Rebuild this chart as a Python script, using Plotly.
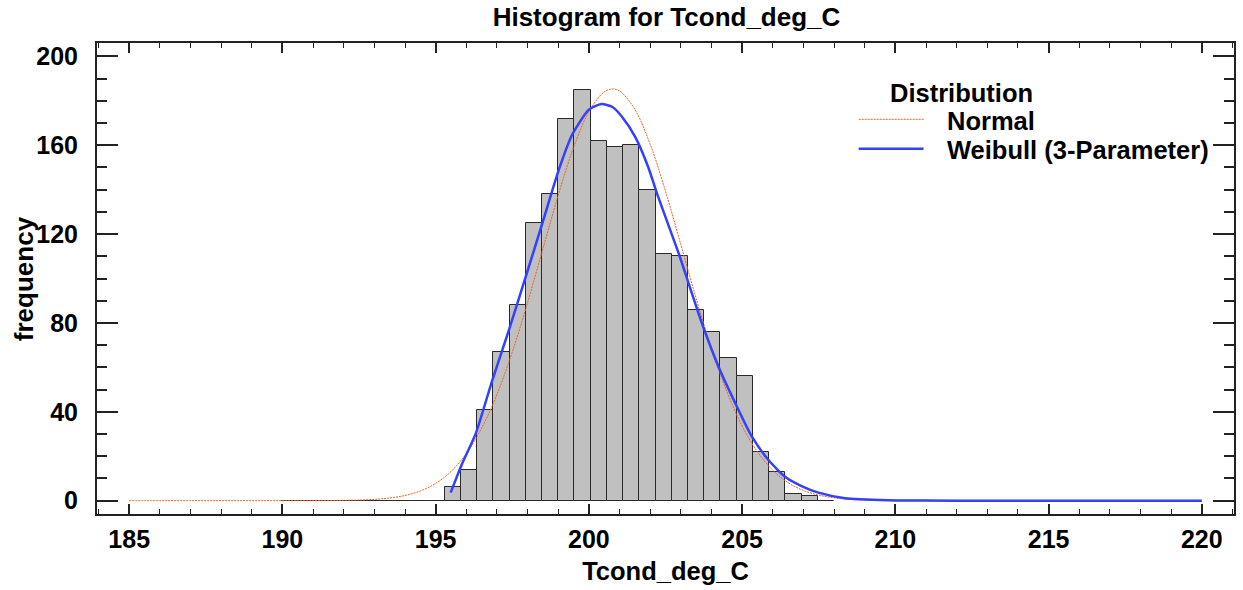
import numpy as np
import plotly.graph_objects as go

# Histogram classes (34 classes from 190 to 208)
class_lower = 190.0
class_upper = 208.0
counts = [0, 0, 0, 0, 0, 0, 0, 0, 0, 0,
          6, 14, 41, 67, 88, 125, 138, 172, 185, 162,
          159, 160, 140, 111, 110, 86, 76, 64, 56, 22,
          13, 3, 2, 0]

# Fitted Normal curve
normal_x = [185, 186, 187, 188, 189, 190, 191, 192, 192.5, 193, 193.5, 194, 194.5,
            195, 195.5, 196, 196.5, 197, 197.5, 198, 198.5, 199, 199.5, 200,
            200.5, 200.77, 201, 201.5, 202, 202.5, 203, 203.5, 204, 204.5, 205,
            205.5, 206, 206.5, 207, 207.5, 208, 208.5, 209, 209.5, 210]
normal_y = [0, 0, 0, 0, 0, 0.003, 0.02, 0.12, 0.27, 0.59, 1.2, 2.34, 4.37,
            7.75, 13.1, 21.2, 32.6, 47.8, 66.9, 89.2, 113.4, 137.5, 158.9, 175.1,
            184.0, 185.3, 184.4, 176.1, 160.4, 139.3, 115.3, 91.0, 68.5, 49.2, 33.6,
            22.0, 13.7, 8.1, 4.6, 2.5, 1.3, 0.6, 0.3, 0.13, 0.05]

# Fitted Weibull (3-Parameter) curve
weibull_x = [195.49, 195.87, 196.31, 196.85, 197.39, 197.94, 198.48, 199.02, 199.45,
             200.0, 200.41, 200.76, 201.08, 201.52, 201.95, 202.22, 202.93, 203.69,
             204.23, 204.78, 205.32, 205.86, 206.4, 206.94, 207.49, 208.36, 209.77,
             211.0, 213.0, 216.0, 220.0]
weibull_y = [3.6, 16.8, 30.3, 54.3, 76.8, 100.8, 124.8, 149.0, 164.6,
             176.0, 178.5, 177.3, 172.8, 163.5, 149.6, 138.3, 111.3, 79.8,
             60.3, 43.8, 28.8, 18.3, 10.8, 6.6, 3.6, 1.1, 0.2,
             0.05, 0.0, 0.0, 0.0]

x_ticks = [185, 190, 195, 200, 205, 210, 215, 220]
y_ticks = [0, 40, 80, 120, 160, 200]

legend_title = "Distribution"
legend_names = ["Normal", "Weibull (3-Parameter)"]

n_classes = len(counts)
width = (class_upper - class_lower) / n_classes
centers = class_lower + width * (np.arange(n_classes) + 0.5)

FONT = "Liberation Sans, Arial, sans-serif"
NORMAL_LINE = dict(color="rgb(232,100,30)", width=1, dash="2px,1px")
WEIBULL_LINE = dict(color="#3340ff", width=2.5)

fig = go.Figure()
fig.add_trace(go.Bar(
    x=centers, y=counts, width=width,
    marker=dict(color="#c0c0c0", line=dict(color="#2a2a2a", width=1)),
    showlegend=False,
))
fig.add_trace(go.Scatter(
    x=normal_x, y=normal_y, mode="lines", name=legend_names[0], showlegend=False,
    line=dict(**NORMAL_LINE, shape="spline"),
))
fig.add_trace(go.Scatter(
    x=weibull_x, y=weibull_y, mode="lines", name=legend_names[1], showlegend=False,
    line=dict(**WEIBULL_LINE, shape="spline", smoothing=0.6),
))

axis_common = dict(
    showline=True, linecolor="#222222", linewidth=2, mirror="allticks",
    showgrid=False, zeroline=False, ticks="inside", tickcolor="#222222",
    tickfont=dict(family=FONT, size=25, color="black", weight="bold"),
)

fig.update_xaxes(
    range=[183.95, 221.05], tickvals=x_ticks, ticklen=10, tickwidth=1.5,
    minor=dict(dtick=1, tick0=185, ticklen=5, ticks="inside", tickcolor="#222222", tickwidth=1),
    ticklabelstandoff=2,
    title=dict(text="Tcond_deg_C", font=dict(family=FONT, size=25.5, color="black", weight="bold"), standoff=10),
    **axis_common,
)
fig.update_yaxes(
    range=[-6, 206], tickvals=y_ticks, ticklen=21, tickwidth=1.5,
    minor=dict(dtick=10, tick0=0, ticklen=10, ticks="inside", tickcolor="#222222", tickwidth=1.5),
    ticklabelstandoff=12,
    **axis_common,
)

# Manual legend and y-axis title (placed in paper coordinates)
leg_font = dict(family=FONT, size=25.5, color="black", weight="bold")
annotations = [
    dict(text="frequency", xref="paper", yref="paper", x=-0.0645, y=0.5, textangle=-90,
         xanchor="center", yanchor="middle", showarrow=False,
         font=dict(family=FONT, size=26, color="black", weight="bold")),
    dict(text=legend_title, xref="paper", yref="paper", x=0.7603, y=0.893,
         xanchor="center", yanchor="middle", showarrow=False, font=leg_font),
    dict(text=legend_names[0], xref="paper", yref="paper", x=0.7455, y=0.834,
         xanchor="left", yanchor="middle", showarrow=False, font=leg_font),
    dict(text=legend_names[1], xref="paper", yref="paper", x=0.7455, y=0.773,
         xanchor="left", yanchor="middle", showarrow=False, font=leg_font),
]
shapes = [
    dict(type="line", xref="paper", yref="paper", x0=0.6699, x1=0.7270, y0=0.838, y1=0.838,
         line=NORMAL_LINE),
    dict(type="line", xref="paper", yref="paper", x0=0.6699, x1=0.7270, y0=0.7756, y1=0.7756,
         line=WEIBULL_LINE),
]

fig.update_layout(
    width=1243, height=590,
    margin=dict(l=97, r=7, t=43, b=76),
    plot_bgcolor="white", paper_bgcolor="white",
    bargap=0, showlegend=False,
    title=dict(text="Histogram for Tcond_deg_C", x=0.5362, xanchor="center",
               y=0.971, yanchor="middle", yref="container",
               font=dict(family=FONT, size=26, color="black", weight="bold")),
    annotations=annotations,
    shapes=shapes,
)

fig.write_html("out.html")
